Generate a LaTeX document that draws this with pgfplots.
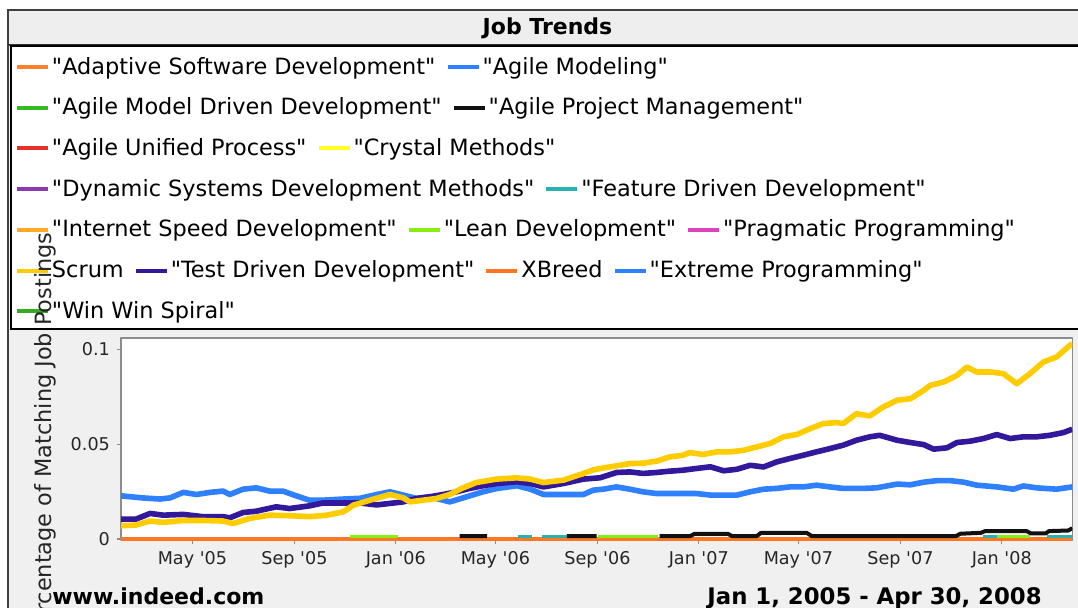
\documentclass[border=0pt]{standalone}
\usepackage{fontspec}
\setmainfont{DejaVu Sans}
\newfontfamily\djv{DejaVu Sans}
\usepackage{pgfplots}
\pgfplotsset{compat=1.18}

\definecolor{cBlue}{HTML}{2F80FF}
\definecolor{cIndigo}{HTML}{34189C}
\definecolor{cGold}{HTML}{FFCC00}
\definecolor{cOrange}{HTML}{FF7722}
\definecolor{cAdapt}{HTML}{FF7F2A}
\definecolor{cGreen}{HTML}{33BB22}
\definecolor{cRed}{HTML}{E8302A}
\definecolor{cYellow}{HTML}{FFFF22}
\definecolor{cPurple}{HTML}{8A3BB0}
\definecolor{cTeal}{HTML}{2BB0B0}
\definecolor{cISD}{HTML}{FFAA22}
\definecolor{cLime}{HTML}{88EE11}
\definecolor{cMagenta}{HTML}{DD44BB}
\definecolor{cWin}{HTML}{33AA22}
\definecolor{cBlack}{HTML}{111111}
\definecolor{bgGray}{HTML}{F0F0F0}
\definecolor{titleGray}{HTML}{EEEEEE}
\definecolor{axGray}{HTML}{8C8C8C}

\newcommand\legfont{\djv\fontsize{11.2}{13}\selectfont}
\newcommand\tickfont{\djv\fontsize{8.8}{10}\selectfont}
\tikzset{lgt/.style={anchor=mid west, xshift=2pt, yshift=-0.8pt, text=black, inner sep=0pt, outer sep=0pt, font=\legfont}}
\newcommand\LegFirst[4]{\draw[line width=2pt, #3] (17,#2) -- ++(31,0) node[lgt] (#1) {#4};}
\newcommand\LegNext[5]{\draw[line width=2pt, #4] (#1.east |- 0,#3) ++(12,0) -- ++(31,0) node[lgt] (#2) {#5};}

\begin{document}
\djv
\begin{tikzpicture}
\useasboundingbox (0,0) rectangle (539pt,-303.5pt);
\clip (0,0) rectangle (539pt,-303.5pt);
\begin{scope}[x=0.5pt,y=-0.5pt]
\fill[white] (0,0) rectangle (1078,607);
\fill[bgGray] (8,10) rectangle (1085,615);
\draw[black!75, line width=0.6pt] (8,615) -- (8,10) -- (1085,10);
\fill[white] (121,338) rectangle (1072.3,540);
\end{scope}

\begin{axis}[
  at={(60.5pt,-270pt)}, anchor=south west,
  scale only axis, width=475.65pt, height=101pt,
  xmin=34, xmax=1180, ymin=-0.0005, ymax=0.106,
  axis line style={draw=axGray, line width=0.6pt},
  tick pos=left, tick align=outside,
  major tick length=2pt,
  every tick/.style={draw=axGray, line width=0.6pt},
  xtick={120,243,365,485,608,730,850,973,1095},
  xticklabels={May '05, Sep '05, Jan '06, May '06, Sep '06, Jan '07, May '07, Sep '07, Jan '08},
  ytick={0,0.05,0.1},
  yticklabels={0,0.05,0.1},
  ticklabel style={font=\tickfont, text=black!85},
  unbounded coords=jump,
  line join=round,
]
% XBreed / Adaptive Software Development (zero)
\addplot[cOrange, line width=2pt] coordinates {(34,0) (1180,0)};
% Feature Driven Development
\addplot[cTeal, line width=1.6pt] coordinates {(512,0.0012) (529,0.0012) (530,nan) (541,0.0012) (571,0.0012) (572,nan) (1073,0.0012) (1089,0.0012) (1090,nan) (1149,0.0012) (1180,0.0012)};
% Lean Development
\addplot[cLime, line width=1.6pt] coordinates {(310,0.0015) (368,0.0015) (369,nan) (609,0.0014) (681,0.0014) (682,nan) (1089,0.0013) (1129,0.0013)};
% Agile Project Management
\addplot[cBlack, line width=2pt] coordinates {(442,0.0016) (475,0.0016) (476,nan) (571,0.0016) (607,0.0016) (608,nan) (683,0.0016) (720,0.0016) (725,0.0028) (765,0.0028) (770,0.0016) (800,0.0016) (805,0.0033) (860,0.0033) (866,0.0016) (1040,0.0016) (1045,0.0028) (1070,0.0033) (1075,0.0042) (1125,0.0042) (1130,0.003) (1148,0.003) (1152,0.0042) (1175,0.0045) (1180,0.0057)};
% Extreme Programming
\addplot[cBlue, line width=2.8pt] coordinates {(34,0.0228) (60,0.0217) (81,0.0211) (93,0.0217) (109,0.0246) (125,0.0235) (141,0.0246) (157,0.0253) (165,0.0235) (181,0.0263) (197,0.0270) (213,0.0253) (229,0.0253) (245,0.0228) (261,0.0205) (277,0.0205) (302,0.0211) (322,0.0215) (342,0.0235) (358,0.0249) (374,0.0232) (390,0.0214) (406,0.0223) (430,0.0196) (446,0.0217) (470,0.0249) (487,0.0267) (511,0.0281) (527,0.0263) (543,0.0235) (567,0.0235) (591,0.0235) (603,0.0258) (615,0.0263) (631,0.0275) (647,0.0263) (663,0.0249) (679,0.0240) (703,0.0240) (727,0.0240) (744,0.0232) (760,0.0232) (776,0.0232) (792,0.0249) (808,0.0263) (824,0.0267) (840,0.0275) (856,0.0275) (872,0.0284) (888,0.0275) (904,0.0267) (928,0.0267) (944,0.0270) (969,0.0290) (985,0.0286) (1001,0.0300) (1017,0.0308) (1033,0.0308) (1049,0.0300) (1065,0.0284) (1089,0.0275) (1109,0.0263) (1121,0.0280) (1137,0.0270) (1161,0.0263) (1180,0.0275)};
% Test Driven Development
\addplot[cIndigo, line width=2.8pt] coordinates {(34,0.0105) (52,0.0105) (69,0.0135) (85,0.0126) (109,0.0130) (133,0.0118) (157,0.0118) (165,0.0112) (181,0.0140) (197,0.0147) (221,0.0170) (237,0.0161) (261,0.0175) (277,0.0190) (302,0.0190) (322,0.0190) (342,0.0180) (358,0.0188) (374,0.0196) (390,0.0214) (406,0.0223) (422,0.0235) (438,0.0249) (454,0.0267) (470,0.0281) (487,0.0293) (511,0.0302) (527,0.0293) (543,0.0275) (567,0.0293) (591,0.0316) (611,0.0323) (631,0.0351) (647,0.0354) (663,0.0346) (679,0.0351) (695,0.0358) (711,0.0363) (727,0.0372) (744,0.0381) (760,0.0360) (776,0.0368) (792,0.0389) (808,0.0380) (824,0.0407) (840,0.0425) (856,0.0442) (872,0.0460) (888,0.0477) (904,0.0495) (920,0.0521) (936,0.0539) (948,0.0547) (969,0.0521) (985,0.0509) (1001,0.0498) (1013,0.0474) (1029,0.0481) (1041,0.0509) (1057,0.0516) (1073,0.0530) (1089,0.0551) (1105,0.0530) (1121,0.0539) (1137,0.0539) (1153,0.0547) (1169,0.0561) (1180,0.0579)};
% Scrum
\addplot[cGold, line width=2.8pt] coordinates {(34,0.0070) (52,0.0074) (69,0.0095) (85,0.0088) (109,0.0098) (133,0.0098) (157,0.0095) (169,0.0082) (189,0.0109) (213,0.0126) (237,0.0123) (261,0.0118) (282,0.0126) (302,0.0144) (314,0.0179) (334,0.0205) (358,0.0235) (374,0.0217) (382,0.0196) (398,0.0205) (414,0.0214) (430,0.0235) (446,0.0270) (462,0.0298) (486,0.0316) (511,0.0323) (527,0.0316) (543,0.0298) (567,0.0311) (591,0.0346) (603,0.0365) (615,0.0375) (631,0.0386) (647,0.0398) (663,0.0400) (679,0.0411) (695,0.0433) (711,0.0442) (719,0.0456) (735,0.0446) (752,0.0460) (768,0.0460) (784,0.0468) (800,0.0486) (816,0.0504) (832,0.0539) (848,0.0551) (864,0.0582) (880,0.0609) (896,0.0614) (904,0.0609) (920,0.0661) (936,0.0649) (952,0.0696) (969,0.0732) (985,0.0740) (1001,0.0784) (1009,0.0811) (1025,0.0828) (1041,0.0863) (1053,0.0907) (1065,0.0881) (1081,0.0881) (1097,0.0872) (1113,0.0819) (1129,0.0872) (1145,0.0933) (1161,0.0960) (1177,0.1021) (1180,0.1030)};
\end{axis}

\begin{scope}[x=0.5pt,y=-0.5pt]
% title bar
\fill[titleGray] (8.5,10.5) rectangle (1085,45);
\draw[black!80, line width=0.8pt] (8,45) -- (1085,45);
\node[anchor=base, inner sep=0pt, font=\djv\bfseries\fontsize{11}{13}\selectfont] at (547.5,34) {Job Trends};
% legend box
\draw[fill=white, draw=black, line width=0.7pt] (11,46) rectangle (1090,329);
\LegFirst{a1}{67}{cAdapt}{"Adaptive Software Development"}
\LegNext{a1}{a2}{67}{cBlue}{"Agile Modeling"}
\LegFirst{b1}{107.7}{cGreen}{"Agile Model Driven Development"}
\LegNext{b1}{b2}{107.7}{cBlack}{"Agile Project Management"}
\LegFirst{c1}{148.4}{cRed}{"Agile Unified Process"}
\LegNext{c1}{c2}{148.4}{cYellow}{"Crystal Methods"}
\LegFirst{d1}{189}{cPurple}{"Dynamic Systems Development Methods"}
\LegNext{d1}{d2}{189}{cTeal}{"Feature Driven Development"}
\LegFirst{e1}{229.8}{cISD}{"Internet Speed Development"}
\LegNext{e1}{e2}{229.8}{cLime}{"Lean Development"}
\LegNext{e2}{e3}{229.8}{cMagenta}{"Pragmatic Programming"}
\LegFirst{f1}{270.5}{cGold}{Scrum}
\LegNext{f1}{f2}{270.5}{cIndigo}{"Test Driven Development"}
\LegNext{f2}{f3}{270.5}{cOrange}{XBreed}
\LegNext{f3}{f4}{270.5}{cBlue}{"Extreme Programming"}
\LegFirst{g1}{311}{cWin}{"Win Win Spiral"}
% y label
\node[rotate=90, anchor=base, inner sep=0pt, font=\legfont, text=black!85] at (51,436) {Percentage of Matching Job Postings};
% bottom texts
\node[anchor=base west, inner sep=0pt, font=\djv\bfseries\fontsize{11}{13}\selectfont] at (52,604) {www.indeed.com};
\node[anchor=base west, inner sep=0pt, font=\djv\bfseries\fontsize{11.4}{13}\selectfont] at (707,604) {Jan 1, 2005 - Apr 30, 2008};
\end{scope}
\end{tikzpicture}
\end{document}
